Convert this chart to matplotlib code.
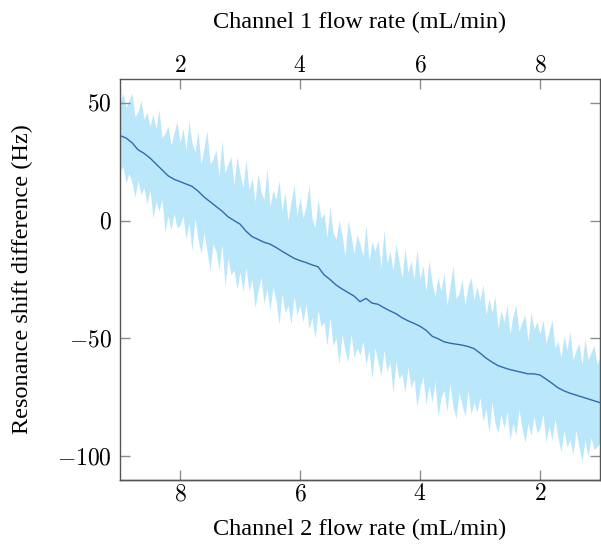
import matplotlib
matplotlib.use("Agg")

import matplotlib.pyplot as plt
import numpy as np
from matplotlib.ticker import FuncFormatter


# =========================
# DATA
# =========================

# channel 1 flow rate, mean curve sampled every 0.1 mL/min from 1 to 9
mean_shift = [
    36, 35, 33, 30, 28.5, 26.5, 24, 21.5, 19, 17.5,
    16.5, 15.5, 14.5, 12.5, 10, 8, 6, 4, 1.6, 0,
    -1.5, -4.5, -6.8, -8, -9.2, -10, -11.4, -13, -14.5, -16,
    -17, -17.8, -18.8, -19.6, -23, -25, -27.3, -29, -30.5, -32,
    -34.4, -33, -35, -35.5, -37, -38.3, -39.5, -41.2, -42.5, -43.6,
    -44.8, -46.5, -49, -50.1, -51.4, -52, -52.4, -52.8, -53.4, -54.3,
    -56.2, -58.3, -60, -61.5, -62.4, -63.2, -63.8, -64.4, -65, -65,
    -65.5, -67.2, -69, -70.9, -72.2, -73.2, -74, -74.8, -75.6, -76.4,
    -77.2,
]

# spread of the raw samples, every 0.05 mL/min from 1 to 9
band_upper = [
    50, 54, 48, 51, 54, 44, 46, 51, 43, 46, 40, 45, 39, 47, 35, 37, 40, 32, 37, 42,
    33, 39, 30, 42, 33, 29, 38, 24, 31, 38, 24, 26, 30, 19, 34, 20, 24, 27, 15, 27,
    20, 14, 26, 13, 18, 8, 20, 12, 9, 22, 6, 13, 9, 17, 4, 12, 0, 8, 15, 2,
    10, 1, 6, 15, 1, -3, 9, 1, 3, -7, 6, -5, -8, 0, -6, -15, 0, -6, -14, -6,
    -10, -15, -2, -17, -9, -13, -8, -20, -4, -18, -13, -21, -10, -17, -24, -12, -22, -17, -25, -12,
    -25, -19, -30, -17, -26, -32, -24, -30, -22, -36, -28, -19, -33, -31, -25, -36, -28, -24, -34, -28,
    -34, -27, -40, -33, -39, -32, -46, -38, -43, -36, -48, -40, -36, -47, -43, -40, -51, -39, -46, -43,
    -48, -42, -52, -47, -42, -54, -51, -58, -49, -55, -47, -59, -55, -52, -61, -50, -59, -56, -53, -61,
    -58,
]

band_lower = [
    21, 23, 16, 20, 16, 10, 17, 11, 14, 7, 13, 1, 8, 4, 9, -5, 2, -4, 3, -3,
    -2, 2, -8, -1, -13, 1, -8, -14, -5, -13, -21, -10, -13, -21, -10, -28, -16, -23, -21, -29,
    -22, -30, -20, -30, -25, -37, -30, -24, -35, -29, -38, -28, -34, -44, -31, -39, -36, -44, -32, -40,
    -36, -43, -35, -46, -41, -50, -38, -45, -43, -53, -41, -53, -50, -61, -48, -55, -60, -48, -58, -54,
    -57, -51, -61, -55, -67, -54, -60, -66, -55, -64, -60, -73, -60, -67, -65, -73, -62, -71, -67, -79,
    -71, -66, -78, -70, -77, -68, -83, -75, -72, -81, -69, -79, -84, -73, -78, -83, -72, -82, -77, -81,
    -75, -85, -80, -90, -77, -86, -90, -82, -88, -81, -93, -86, -91, -80, -88, -94, -86, -91, -83, -90,
    -88, -82, -94, -87, -93, -84, -92, -98, -89, -96, -93, -99, -89, -96, -102, -93, -100, -92, -97, -96,
    -94,
]

top_ticks = [2, 4, 6, 8]
bottom_ticks = [8, 6, 4, 2]
y_ticks = [-100, -50, 0, 50]

TOTAL_FLOW = 10

# =========================
# STYLE
# =========================

plt.rcParams["font.family"] = ["Liberation Serif", "DejaVu Serif"]
plt.rcParams["mathtext.fontset"] = "cm"

BAND_COLOR = "#bbe7fa"
LINE_COLOR = "#2f6cae"
TICK_COLOR = "#8c8c8c"
LABEL_FS = 17.5
TICK_FS = 17

math_fmt = FuncFormatter(lambda v, pos: r"$%g$" % v)

# =========================
# PLOT
# =========================

fig = plt.figure(figsize=(6.01, 5.46), dpi=100)
ax = fig.add_axes([120 / 601, 66 / 546, 480 / 601, 401 / 546])

x_mean = np.linspace(1, 9, len(mean_shift))
x_band = np.linspace(1, 9, len(band_upper))

ax.fill_between(x_band, band_lower, band_upper, color=BAND_COLOR, linewidth=0)
ax.plot(x_mean, mean_shift, color=LINE_COLOR, linewidth=1.0)

ax.set_xlim(1, 9)
ax.set_ylim(-110, 60)

# channel 1 on top
ax.xaxis.tick_top()
ax.xaxis.set_label_position("top")
ax.set_xticks(top_ticks)
ax.xaxis.set_major_formatter(math_fmt)
ax.set_xlabel("Channel 1 flow rate (mL/min)", fontsize=LABEL_FS, labelpad=20)

ax.set_yticks(y_ticks)
ax.yaxis.set_major_formatter(math_fmt)
ax.set_ylabel("Resonance shift difference (Hz)", fontsize=LABEL_FS, labelpad=17)

ax.tick_params(axis="x", direction="in", length=7, width=1,
               color=TICK_COLOR, labelsize=TICK_FS, pad=1.5)
ax.tick_params(axis="y", direction="in", length=7, width=1, right=True,
               color=TICK_COLOR, labelsize=TICK_FS, pad=6)

# channel 2 on the bottom, total flow is constant
sec = ax.secondary_xaxis("bottom", functions=(lambda v: TOTAL_FLOW - v,
                                              lambda v: TOTAL_FLOW - v))
sec.set_xticks(bottom_ticks)
sec.xaxis.set_major_formatter(math_fmt)
sec.set_xlabel("Channel 2 flow rate (mL/min)", fontsize=LABEL_FS, labelpad=10)
sec.tick_params(direction="in", length=7, width=1, color=TICK_COLOR,
                labelsize=TICK_FS, pad=3)

for sp in list(ax.spines.values()) + list(sec.spines.values()):
    sp.set_color("#555555")
    sp.set_linewidth(1.0)

fig.savefig("out.png", dpi=100)
plt.close(fig)
